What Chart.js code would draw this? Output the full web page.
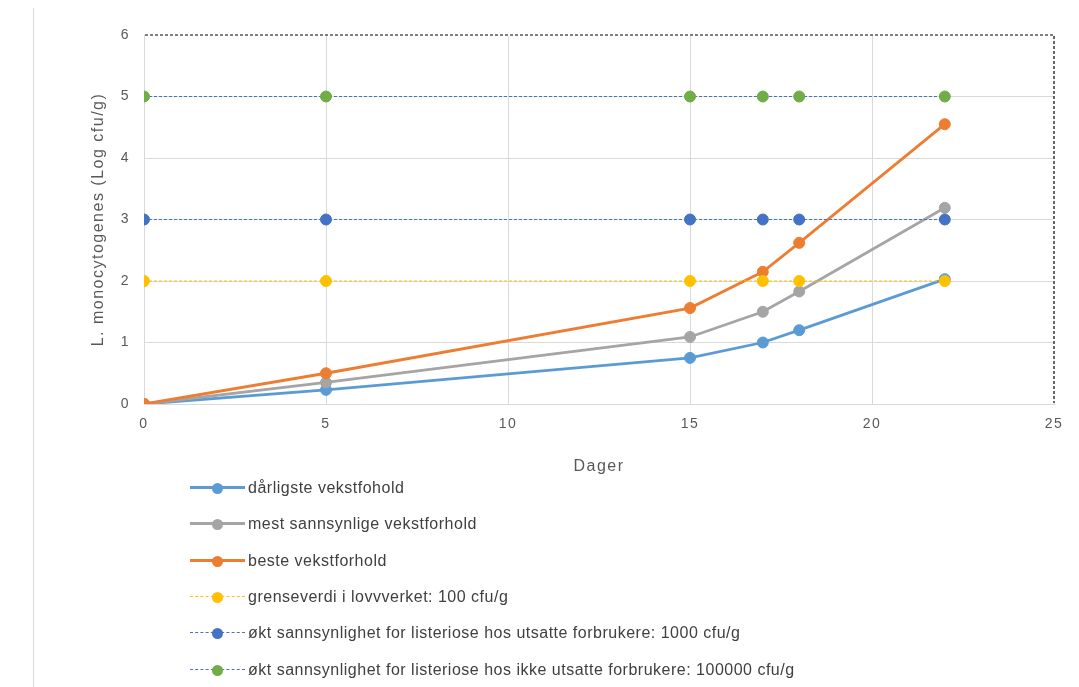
<!DOCTYPE html>
<html>
<head>
<meta charset="utf-8">
<script src="https://cdn.jsdelivr.net/npm/chart.js@4/dist/chart.umd.min.js"></script>
<style>
    body { margin: 0; background: #fff; font-family: "Liberation Sans", Arial, sans-serif; }
    #wrap { position: relative; width: 1079px; height: 687px; overflow: hidden; }
    #edge { position: absolute; left: 33px; top: 8px; bottom: 0; border-left: 1px solid #d9d9d9; }
    #box { position: absolute; left: 0; top: 0; width: 1079px; height: 480px; }
    #legend { position: absolute; left: 190px; top: 470px; }
    .item { display: flex; align-items: center; height: 36.3px; font-size: 16px; color: #404040; letter-spacing: 0.5px; }
    .sample { position: relative; width: 55px; height: 12px; margin-right: 3px; }
    .sample .ln { position: absolute; left: 0; right: 0; top: 5px; }
    .sample .dot { position: absolute; left: 22px; top: 1px; width: 11px; height: 11px; border-radius: 50%; }
</style>
</head>
<body>
<div id="wrap">
    <div id="edge"></div>
    <div id="box"><canvas id="chart"></canvas></div>
    <div id="legend"></div>
</div>
<script>
// days
const days = [0, 5, 15, 17, 18, 22];

// growth curves (log cfu/g)
const worstGrowth = [0, 0.23, 0.75, 1.0, 1.2, 2.03];
const likelyGrowth = [0, 0.35, 1.09, 1.5, 1.83, 3.19];
const bestGrowth = [0, 0.5, 1.56, 2.15, 2.62, 4.55];

// reference levels
const limitLevel = [2, 2, 2, 2, 2, 2];
const riskExposed = [3, 3, 3, 3, 3, 3];
const riskOthers = [5, 5, 5, 5, 5, 5];

const labels = [
    'dårligste vekstfohold',
    'mest sannsynlige vekstforhold',
    'beste vekstforhold',
    'grenseverdi i lovvverket: 100 cfu/g',
    'økt sannsynlighet for listeriose hos utsatte forbrukere:  1000 cfu/g',
    'økt sannsynlighet for listeriose hos ikke utsatte forbrukere: 100000 cfu/g'
];

const yTicks = [0, 1, 2, 3, 4, 5, 6];
const xTicks = [0, 5, 10, 15, 20, 25];

function toPoints(values) {
    return days.map(function(d, i) { return { x: d, y: values[i] }; });
}

const seriesValues = [worstGrowth, likelyGrowth, bestGrowth, limitLevel, riskExposed, riskOthers];
const lineColors = ['#5b9bd5', '#a5a5a5', '#ed7d31', '#ffc000', '#4472c4', '#4472c4'];
const dotColors = ['#5b9bd5', '#a5a5a5', '#ed7d31', '#ffc000', '#4472c4', '#70ad47'];
const dashed = [false, false, false, true, true, true];

const datasets = seriesValues.map(function(vals, i) {
    return {
        label: labels[i],
        data: toPoints(vals),
        borderColor: lineColors[i],
        backgroundColor: dotColors[i],
        pointBackgroundColor: dotColors[i],
        pointBorderColor: dotColors[i],
        pointRadius: 5.5,
        pointBorderWidth: 1,
        borderWidth: dashed[i] ? 1.2 : 2.8,
        borderDash: dashed[i] ? [3, 2] : [],
        showLine: true,
        tension: 0,
        order: 6 - i
    };
});

// dashed black top/right frame like the original, plus looser axis text
const frame = {
    id: 'frame',
    beforeDraw: function(chart) {
        chart.ctx.letterSpacing = '1.5px';
    },
    beforeDatasetsDraw: function(chart) {
        const a = chart.chartArea;
        const c = chart.ctx;
        c.letterSpacing = '0px';
        c.save();
        c.strokeStyle = '#fff';
        c.lineWidth = 2;
        c.beginPath();
        c.moveTo(a.left + 1, a.top);
        c.lineTo(a.right, a.top);
        c.lineTo(a.right, a.bottom - 1);
        c.stroke();
        c.strokeStyle = '#000';
        c.lineWidth = 1.2;
        c.setLineDash([3, 2]);
        c.stroke();
        c.restore();
    }
};

const ctx = document.getElementById('chart').getContext('2d');
new Chart(ctx, {
    type: 'scatter',
    data: { datasets: datasets },
    options: {
        responsive: true,
        maintainAspectRatio: false,
        animation: false,
        layout: { padding: { left: 85, right: 25, top: 35, bottom: 0 } },
        plugins: {
            legend: { display: false },
            tooltip: { enabled: false }
        },
        scales: {
            x: {
                type: 'linear',
                min: 0,
                max: 25,
                afterBuildTicks: function(s) { s.ticks = xTicks.map(function(v) { return { value: v }; }); },
                ticks: { color: '#595959', font: { size: 14, family: 'Liberation Sans' }, padding: 12 },
                grid: { color: '#d9d9d9', drawTicks: false },
                border: { color: '#d9d9d9' },
                title: { display: true, text: 'Dager', color: '#595959', font: { size: 16, family: 'Liberation Sans' }, padding: { top: 13 } },
                afterFit: function(s) { s.height = 76; }
            },
            y: {
                min: 0,
                max: 6,
                afterBuildTicks: function(s) { s.ticks = yTicks.map(function(v) { return { value: v }; }); },
                ticks: { color: '#595959', font: { size: 14, family: 'Liberation Sans' }, padding: 14 },
                grid: { color: '#d9d9d9', drawTicks: false },
                border: { color: '#d9d9d9' },
                title: { display: true, text: 'L. monocytogenes (Log cfu/g)', color: '#595959', font: { size: 16, family: 'Liberation Sans' } },
                afterFit: function(s) { s.width = 59; }
            }
        }
    },
    plugins: [frame]
});

// legend below, one entry per row
const legend = document.getElementById('legend');
datasets.forEach(function(ds, i) {
    const row = document.createElement('div');
    row.className = 'item';
    const sample = document.createElement('span');
    sample.className = 'sample';
    const ln = document.createElement('span');
    ln.className = 'ln';
    ln.style.borderTop = dashed[i] ? '1px dashed ' + lineColors[i] : '3px solid ' + lineColors[i];
    if (!dashed[i]) ln.style.top = '4px';
    const dot = document.createElement('span');
    dot.className = 'dot';
    dot.style.background = dotColors[i];
    sample.appendChild(ln);
    sample.appendChild(dot);
    const txt = document.createElement('span');
    txt.textContent = ds.label;
    row.appendChild(sample);
    row.appendChild(txt);
    legend.appendChild(row);
});
</script>
</body>
</html>
